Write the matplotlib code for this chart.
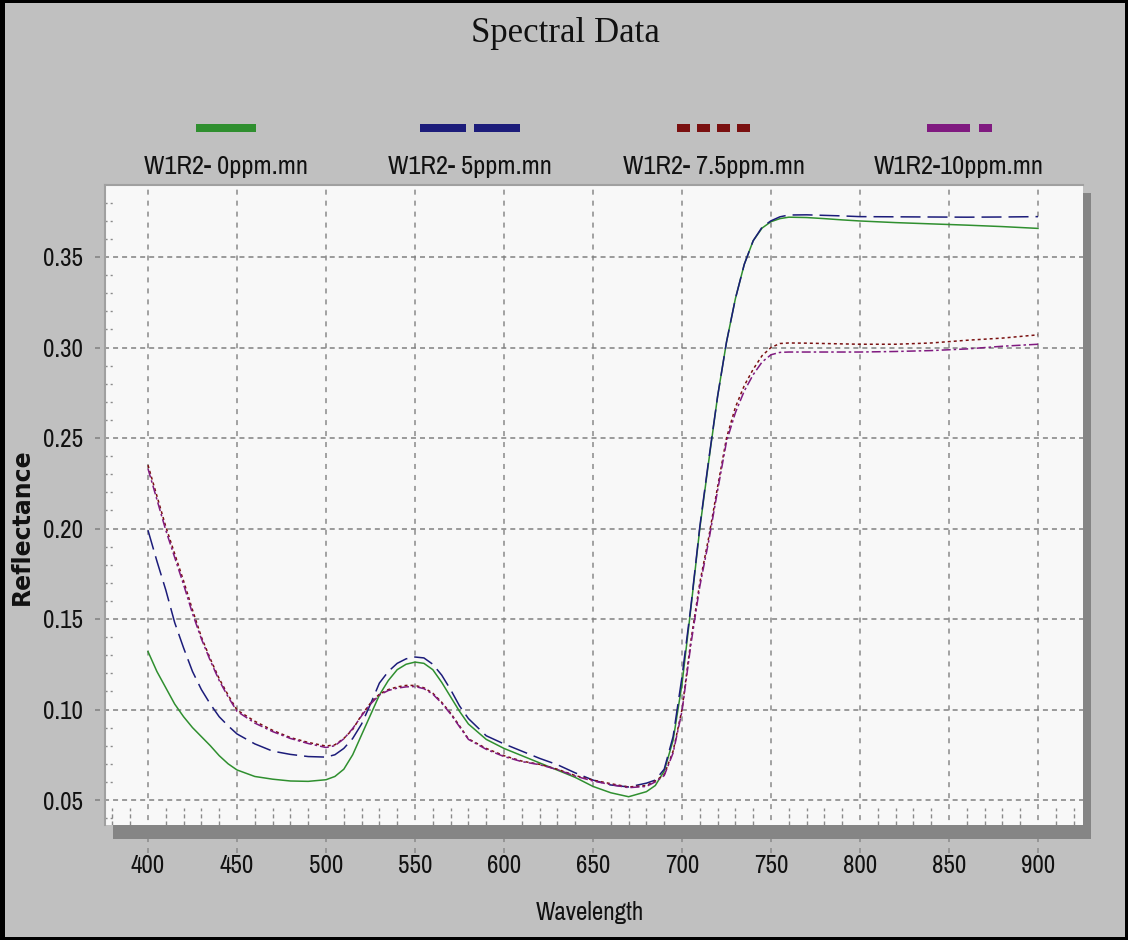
import matplotlib
matplotlib.use("Agg")
import matplotlib.pyplot as plt
from matplotlib.lines import Line2D
from matplotlib.patches import Rectangle
from matplotlib import font_manager as fm
import numpy as np

# ---------------- data ----------------
wavelength = [400, 405, 410, 415, 420, 425, 430, 435, 440, 445, 450,
              460, 470, 480, 490, 500,
              505, 510, 515, 520, 525, 530, 535, 540, 545, 550, 555, 560, 565, 570, 575, 580,
              590, 600, 610, 620, 630, 640, 650, 660, 670, 680,
              685, 690, 695, 700, 705, 710, 715, 720, 725, 730, 735, 740, 745, 750, 755, 760,
              770, 780, 790, 800,
              820, 840, 860, 880, 900]

r_0ppm = [.132, .121, .112, .103, .096, .090, .085, .080, .0745, .070, .0666,
          .063, .0615, .0605, .0603, .0612,
          .0630, .0670, .075, .086, .097, .108, .116, .122, .125, .1262, .1255, .122, .115, .107, .099, .092,
          .0835, .0785, .0745, .0705, .0665, .0625, .0575, .0540, .0518, .0546,
          .058, .066, .083, .114, .156, .200, .237, .273, .303, .327, .346, .359, .366, .3695, .3712, .372,
          .3718, .3712, .3705, .3699,
          .369, .3683, .3676, .3668, .3658]

r_5ppm = [.199, .182, .166, .148, .134, .121, .111, .103, .096, .091, .0865,
          .081, .077, .0752, .0740, .0737,
          .0750, .0785, .084, .092, .103, .1146, .121, .1255, .128, .1290, .1285, .1250, .119, .111, .102, .095,
          .0855, .081, .077, .073, .0695, .0650, .0610, .0583, .0572, .0593,
          .061, .067, .085, .118, .157, .201, .238, .273, .303, .327, .346, .359, .3665, .3700, .3722, .3732,
          .3733, .3730, .3727, .3723,
          .3722, .3721, .3720, .3721, .3723]

r_7_5ppm = [.235, .218, .201, .186, .171, .155, .140, .128, .117, .108, .0997,
            .0935, .0885, .0845, .0818, .0798,
            .0805, .0840, .0890, .0970, .1035, .1085, .111, .1125, .1133, .1133, .112, .109, .104, .098, .091, .0838,
            .0785, .0745, .0715, .0697, .0670, .0635, .0610, .0590, .0572, .0580,
            .0605, .064, .077, .100, .138, .170, .195, .223, .250, .267, .279, .288, .2955, .3000, .3022, .3025,
            .3024, .3022, .3020, .3018,
            .3018, .3025, .3040, .3052, .3070]

r_10ppm = [.233, .216, .199, .184, .169, .153, .139, .127, .116, .107, .0990,
           .0925, .0878, .0840, .0812, .0790,
           .0800, .0838, .0895, .0965, .1030, .1080, .1105, .1118, .1125, .1127, .1115, .1085, .1035, .0975, .0905, .0835,
           .0780, .0740, .0712, .0695, .0668, .0632, .0605, .0585, .0568, .0575,
           .0600, .0635, .0760, .0990, .136, .168, .193, .221, .248, .264, .276, .285, .2920, .2960, .2973, .2975,
           .2975, .2975, .2975, .2975,
           .2978, .2983, .2992, .3007, .3018]

series_names = ["W1R2- 0ppm.mn", "W1R2- 5ppm.mn", "W1R2- 7.5ppm.mn", "W1R2-10ppm.mn"]
series_values = [r_0ppm, r_5ppm, r_7_5ppm, r_10ppm]
x_ticks = [400, 450, 500, 550, 600, 650, 700, 750, 800, 850, 900]
y_ticks = [0.05, 0.10, 0.15, 0.20, 0.25, 0.30, 0.35]

# ---------------- style ----------------
plt.rcParams['lines.scale_dashes'] = False
avail = {f.name for f in fm.fontManager.ttflist}
narrow = next((n for n in ['Archivo Narrow', 'PT Sans Narrow', 'Roboto Condensed', 'Liberation Sans']
               if n in avail), 'DejaVu Sans')
NF = [narrow, 'DejaVu Sans']

W, H = 1128, 940
PX = 0.72  # points per pixel at dpi 100

colors = ['#2f8f2f', '#1c1c7a', '#7a1010', '#801a80']
plot_dashes = [None, (20 * PX, 7 * PX), (3 * PX, 3 * PX), (9 * PX, 3 * PX, 2.5 * PX, 3 * PX)]

fig = plt.figure(figsize=(W / 100, H / 100), dpi=100, facecolor='#c0c0c0')

def fx(px):
    return px / W

def fy(py):
    return 1 - py / H

# axes rectangle (pixels): x 105..1083, y 185..825
L, R, T, B = 105, 1083, 185, 825
ax = fig.add_axes([fx(L), fy(B), (R - L) / W, (B - T) / H])
ax.set_facecolor('#f8f8f8')
xlim = (400 - (148 - L) / 1.78, 900 + (R - 1038) / 1.78)
ylim = (0.05 - (B - 800) / 1810, 0.35 + (257 - T) / 1810)
ax.set_xlim(*xlim)
ax.set_ylim(*ylim)

for sp in ['bottom', 'right']:
    ax.spines[sp].set_visible(False)
for sp in ['top', 'left']:
    ax.spines[sp].set_color('#a0a0a0')
    ax.spines[sp].set_linewidth(1.5)

# grid (extended beyond the axes like the reference)
for xv in x_ticks:
    ax.axvline(xv, ymin=-(853 - B) / (B - T), ymax=1, color='#8a8a8a', lw=1.1,
               dashes=(3.6, 4.3), clip_on=False, zorder=1)
for yv in y_ticks:
    ax.axhline(yv, xmin=-10 / (R - L), xmax=1, color='#808080', lw=1.1,
               dashes=(3.6, 2.9), clip_on=False, zorder=1)

# minor tick marks inside plot
minor_x = [v for v in range(380, 925, 10) if v % 50 != 0]
ax.vlines(minor_x, 0, 17 / (B - T), transform=ax.get_xaxis_transform(),
          colors='#8a8a8a', lw=1.0, linestyles=(0, (2.9, 2.2)), zorder=1)
minor_y = [round(v, 2) for v in np.arange(0.04, 0.385, 0.01) if round(v * 100) % 5 != 0]
ax.hlines(minor_y, 0, 10 / (R - L), transform=ax.get_yaxis_transform(),
          colors='#8a8a8a', lw=1.0, linestyles=(0, (1.5, 2.2)), zorder=1)

# data lines
for vals, c, d in zip(series_values, colors, plot_dashes):
    ln, = ax.plot(wavelength, vals, color=c, lw=1.1, zorder=3)
    if d is not None:
        ln.set_dashes(d)

ax.set_xticks(x_ticks)
ax.set_xticklabels([str(v) for v in x_ticks])
ax.set_yticks(y_ticks)
ax.set_yticklabels([f"{v:.2f}" for v in y_ticks])
ax.tick_params(axis='both', length=0, labelsize=18, colors='#111111')
ax.tick_params(axis='x', pad=21)
ax.tick_params(axis='y', pad=16)
for lab in ax.get_xticklabels() + ax.get_yticklabels():
    lab.set_family(NF)

ax.set_xlabel("Wavelength", family=NF, fontsize=18, color='#111111', va='center')
ax.xaxis.set_label_coords((590 - L) / (R - L), (B - 913) / (B - T))
ax.set_ylabel("Reflectance", family=['DejaVu Sans'], fontweight='bold', fontsize=17,
              color='#111111', va='center', ha='center')
ax.yaxis.set_label_coords((22 - L) / (R - L), (B - 527) / (B - T))

# shadow of the plot panel (drawn over the extended grid lines)
fig.add_artist(Rectangle((fx(113), fy(839)), fx(1091) - fx(113), fy(825) - fy(839),
                         transform=fig.transFigure, facecolor='#858585', edgecolor='none', zorder=5))
fig.add_artist(Rectangle((fx(1083), fy(839)), fx(1091) - fx(1083), fy(193) - fy(839),
                         transform=fig.transFigure, facecolor='#858585', edgecolor='none', zorder=5))

# title
fig.text(fx(565), fy(34), "Spectral Data", family=['Liberation Serif', 'DejaVu Serif'],
         fontsize=25, ha='center', va='center', color='#111111')

# legend: sample above, label below
leg_centers = [226, 470, 714, 959]
leg_spans = [(196, 256), (420, 520), (677, 752), (927, 992)]
leg_dashes = [None, (46 * PX, 8 * PX), (13 * PX, 7 * PX), (43 * PX, 9 * PX, 13 * PX, 9 * PX)]
for name, c, cx, (x0, x1), d in zip(series_names, colors, leg_centers, leg_spans, leg_dashes):
    ln = Line2D([fx(x0), fx(x1)], [fy(128), fy(128)], transform=fig.transFigure,
                color=c, lw=8 * PX, solid_capstyle='butt', dash_capstyle='butt')
    if d is not None:
        ln.set_dashes(d)
    fig.add_artist(ln)
    fig.text(fx(cx), fy(166), name, family=NF, fontsize=19, ha='center', va='center',
             color='#111111')

# black outer frame
fig.add_artist(Rectangle((0, 0), 1, 1, transform=fig.transFigure, fill=False,
                         edgecolor='black', lw=6 * PX, zorder=10))
fig.add_artist(Rectangle((0, 0), fx(5), 1, transform=fig.transFigure,
                         facecolor='black', edgecolor='none', zorder=10))

fig.savefig("out.png", dpi=100, facecolor=fig.get_facecolor())
